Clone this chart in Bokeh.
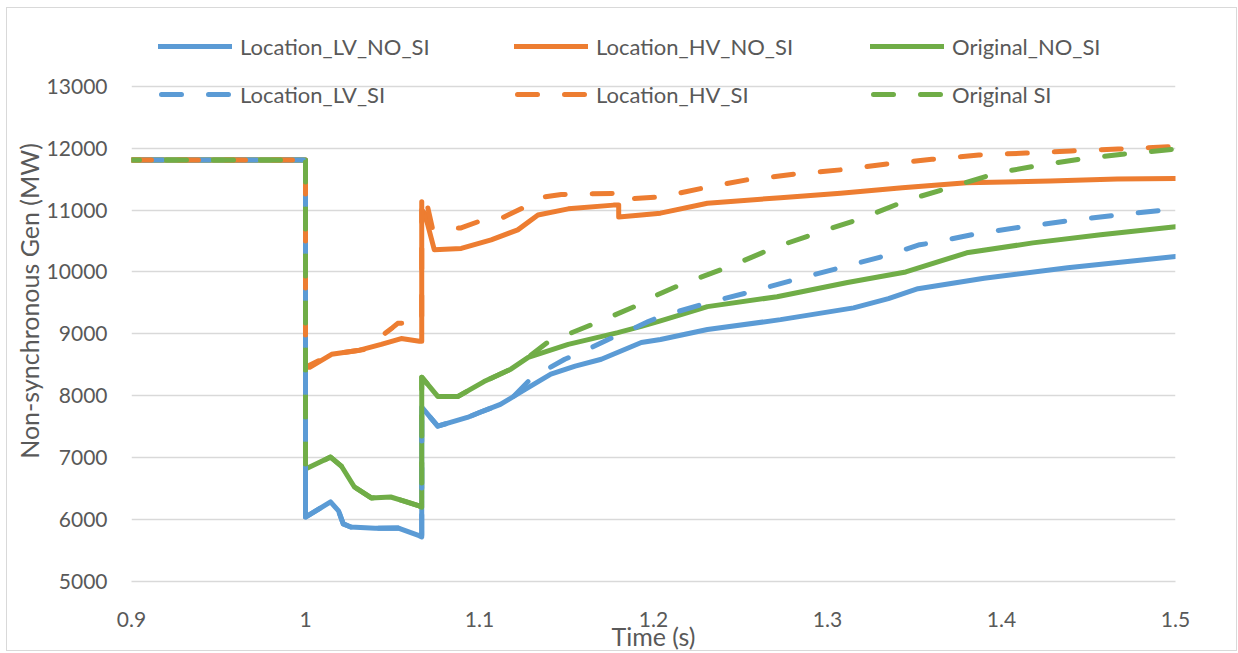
from bokeh.plotting import figure
from bokeh.models import Legend, LegendItem, Range1d, FixedTicker, InlineStyleSheet
from bokeh.embed import file_html
from bokeh.resources import INLINE

# ---------------- data ----------------
lv_no_si_t = [0.9, 1.0, 1.0, 1.0144, 1.019, 1.0217, 1.026, 1.04, 1.053, 1.0653, 1.0668, 1.0668,
              1.076, 1.093, 1.1, 1.112, 1.126, 1.141, 1.155, 1.17, 1.193, 1.204, 1.231, 1.273,
              1.315, 1.335, 1.352, 1.39, 1.438, 1.5]
lv_no_si_v = [11810, 11810, 6040, 6285, 6140, 5930, 5880, 5860, 5865, 5740, 5720, 7815,
              7510, 7650, 7730, 7860, 8100, 8350, 8480, 8590, 8860, 8910, 9070, 9230,
              9420, 9570, 9730, 9900, 10070, 10250]

hv_no_si_t = [0.9, 1.0, 1.0, 1.0024, 1.015, 1.030, 1.0435, 1.055, 1.0655, 1.0668, 1.0668, 1.0685,
              1.074, 1.0895, 1.1067, 1.122, 1.1336, 1.151, 1.177, 1.180, 1.180, 1.193, 1.204,
              1.231, 1.273, 1.3075, 1.343, 1.38, 1.428, 1.4665, 1.5]
hv_no_si_v = [11810, 11810, 8460, 8460, 8670, 8730, 8830, 8925, 8880, 8880, 11000, 10950,
              10360, 10380, 10520, 10680, 10920, 11020, 11080, 11080, 10890, 10920, 10950,
              11110, 11200, 11270, 11360, 11440, 11470, 11500, 11510]

orig_no_si_t = [0.9, 1.0, 1.0, 1.0144, 1.0206, 1.028, 1.0378, 1.049, 1.0567, 1.0653, 1.0668, 1.0668,
                1.076, 1.0877, 1.1026, 1.118, 1.128, 1.151, 1.1795, 1.193, 1.204, 1.231, 1.271,
                1.3115, 1.345, 1.38, 1.418, 1.457, 1.5]
orig_no_si_v = [11810, 11810, 6816, 7010, 6865, 6530, 6350, 6365, 6300, 6220, 6200, 8300,
                7990, 7990, 8230, 8430, 8620, 8830, 9020, 9120, 9210, 9440, 9600,
                9830, 10000, 10310, 10470, 10600, 10730]

lv_si_t = [0.9, 1.0, 1.0, 1.0144, 1.019, 1.0217, 1.026, 1.04, 1.053, 1.0653, 1.0668, 1.0668,
           1.076, 1.093, 1.1, 1.112, 1.12, 1.13, 1.149, 1.16, 1.174, 1.185, 1.197, 1.204,
           1.231, 1.256, 1.281, 1.3075, 1.333, 1.353, 1.36, 1.386, 1.4125, 1.4395, 1.4665, 1.5]
lv_si_v = [11810, 11810, 6040, 6285, 6140, 5930, 5880, 5860, 5865, 5740, 5720, 7815,
           7510, 7650, 7730, 7860, 8000, 8290, 8590, 8720, 8910, 9040, 9200, 9280,
           9500, 9680, 9875, 10070, 10260, 10440, 10470, 10620, 10730, 10830, 10920, 11020]

hv_si_t = [0.9, 1.0, 1.0, 1.015, 1.030, 1.034, 1.0435, 1.05, 1.053, 1.0647, 1.0668, 1.0668,
           1.069, 1.073, 1.089, 1.102, 1.112, 1.126, 1.134, 1.147, 1.16, 1.180, 1.181,
           1.196, 1.204, 1.231, 1.254, 1.281, 1.3075, 1.333, 1.36, 1.387, 1.414, 1.44,
           1.467, 1.5]
hv_si_v = [11810, 11810, 8460, 8670, 8730, 8750, 8960, 9100, 9170, 9180, 9180, 11290,
           11200, 10700, 10710, 10840, 10860, 11050, 11200, 11250, 11260, 11270, 11170,
           11200, 11210, 11370, 11490, 11580, 11650, 11740, 11820, 11890, 11920, 11955,
           11985, 12030]

orig_si_t = [0.9, 1.0, 1.0, 1.0144, 1.0206, 1.028, 1.0378, 1.049, 1.0567, 1.0653, 1.0668, 1.0668,
             1.076, 1.0877, 1.1026, 1.118, 1.125, 1.139, 1.169, 1.189, 1.199, 1.216, 1.244,
             1.269, 1.294, 1.32, 1.346, 1.371, 1.3975, 1.4235, 1.449, 1.4758, 1.5]
orig_si_v = [11810, 11810, 6816, 7010, 6865, 6530, 6350, 6365, 6300, 6220, 6200, 8300,
             7990, 7990, 8230, 8430, 8560, 8860, 9200, 9440, 9590, 9800, 10090,
             10390, 10630, 10870, 11160, 11370, 11600, 11730, 11840, 11920, 11985]

series_names = ["Location_LV_NO_SI", "Location_HV_NO_SI", "Original_NO_SI",
                "Location_LV_SI", "Location_HV_SI", "Original SI"]

x_ticks = [0.9, 1.0, 1.1, 1.2, 1.3, 1.4, 1.5]
x_tick_labels = ["0.9", "1", "1.1", "1.2", "1.3", "1.4", "1.5"]
y_ticks = [5000, 6000, 7000, 8000, 9000, 10000, 11000, 12000, 13000]

# ---------------- layout / styling ----------------
BLUE, ORANGE, GREEN = "#5B9BD5", "#ED7D31", "#70AD47"
TXT = "#595959"
GRID = "#D9D9D9"
FONT = "Lato"
DASH = "20 27"

W, H = 1238, 653
FRAME_TOP, Y13_PX, Y5_PX = 20, 86, 583   # frame extends above 13000 to host the legend
y_lo, y_hi = y_ticks[0], y_ticks[-1]
y_top = y_hi + (Y13_PX - FRAME_TOP) * (y_hi - y_lo) / (Y5_PX - Y13_PX)

border_css = InlineStyleSheet(css="""
:host { position: relative; }
:host::after {
  content: ""; position: absolute; left: 6px; top: 7px; right: 1px; bottom: 2px;
  border: 1.5px solid #D9D9D9; pointer-events: none; z-index: 100;
}
""")

p = figure(width=W, height=H, output_backend="svg", toolbar_location=None,
           x_range=Range1d(x_ticks[0], x_ticks[-1]), y_range=Range1d(y_lo, y_top),
           min_border_left=131, min_border_right=63, min_border_top=FRAME_TOP,
           min_border_bottom=H - Y5_PX, stylesheets=[border_css])
p.background_fill_color = "white"
p.border_fill_color = "white"
p.outline_line_color = None

series = [
    (lv_no_si_t, lv_no_si_v, BLUE, "solid", 0),
    (hv_no_si_t, hv_no_si_v, ORANGE, "solid", 0),
    (orig_no_si_t, orig_no_si_v, GREEN, "solid", 0),
    (lv_si_t, lv_si_v, BLUE, DASH, 36),
    (hv_si_t, hv_si_v, ORANGE, DASH, 0),
    (orig_si_t, orig_si_v, GREEN, DASH, 12),
]
legend_items = []
for (t, v, c, d, off), name in zip(series, series_names):
    p.line(t, v, line_color=c, line_width=5, line_dash=d, line_dash_offset=off,
           line_cap="round", line_join="round")
    # legend swatch (single point: draws nothing in the plot) with an unshifted dash pattern
    proxy = p.line(t[:1], v[:1], line_color=c, line_width=5, line_dash=d,
                   line_dash_offset=(-3 if d != "solid" else 0),
                   line_cap="round", line_join="round")
    legend_items.append(LegendItem(label=name, renderers=[proxy]))

# axes
p.xaxis.ticker = FixedTicker(ticks=x_ticks)
p.xaxis.major_label_overrides = {t: lab for t, lab in zip(x_ticks, x_tick_labels)}
p.yaxis.ticker = FixedTicker(ticks=y_ticks)
p.yaxis.bounds = (y_lo, y_hi)
for ax in (p.xaxis[0], p.yaxis[0]):
    ax.major_tick_line_color = None
    ax.minor_tick_line_color = None
    ax.major_label_text_font = FONT
    ax.major_label_text_font_size = "21px"
    ax.major_label_text_color = TXT
    ax.axis_label_text_font = FONT
    ax.axis_label_text_color = TXT
    ax.axis_label_text_font_style = "normal"
p.yaxis.axis_line_color = None
p.xaxis.axis_line_color = GRID
p.xaxis.axis_line_width = 1.5
p.yaxis.major_label_standoff = 18
p.yaxis.axis_label = "Non-synchronous Gen (MW)"
p.yaxis.axis_label_text_font_size = "25px"
p.yaxis.axis_label_standoff = 0
p.xaxis.major_label_standoff = 24
p.xaxis.axis_label = "Time (s)"
p.xaxis.axis_label_text_font_size = "25px"
p.xaxis.axis_label_standoff = -9

p.xgrid.grid_line_color = None
p.ygrid.grid_line_color = GRID
p.ygrid.grid_line_width = 1.5
p.ygrid.ticker = FixedTicker(ticks=y_ticks)

# legend (3 columns x 2 rows, at the top of the plot area)
legend = Legend(items=legend_items, orientation="horizontal", ncols=3,
                location=(27, Y5_PX - 113), padding=0, margin=0, spacing=14,
                glyph_width=74, glyph_height=34, label_height=34, label_width=260,
                label_standoff=8, label_text_font=FONT, label_text_font_size="22px",
                label_text_color=TXT, background_fill_alpha=0, border_line_alpha=0)
p.add_layout(legend, "center")

open("out.html", "w").write(file_html(p, INLINE))
